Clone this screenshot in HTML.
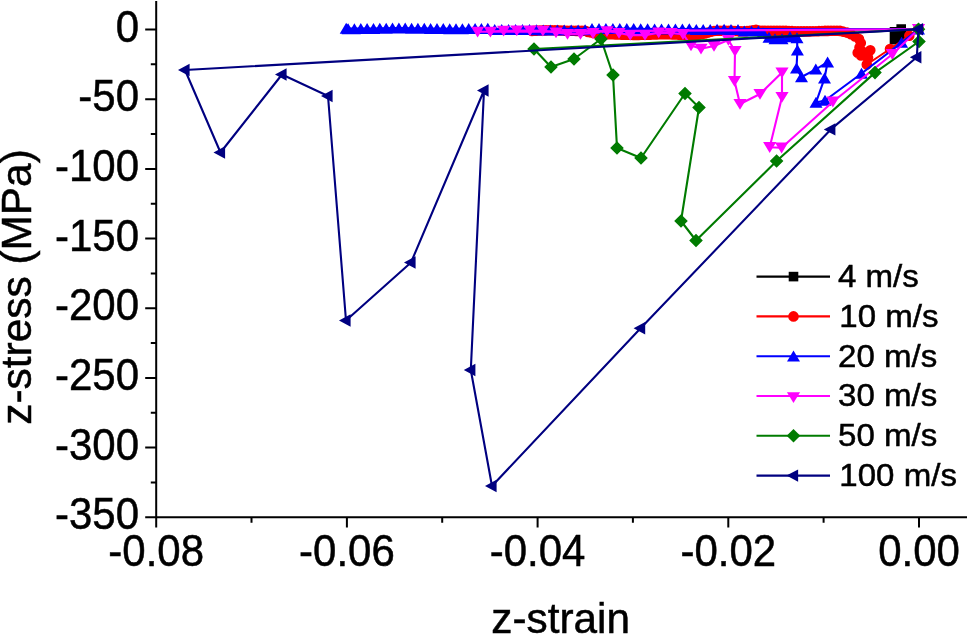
<!DOCTYPE html>
<html lang="en"><head><meta charset="utf-8"><title>z-stress vs z-strain</title>
<style>html,body{margin:0;padding:0;background:#fff}body{width:968px;height:636px;overflow:hidden}</style></head>
<body>
<svg width="968" height="636" viewBox="0 0 968 636" style="display:block">
<rect width="968" height="636" fill="#ffffff"/>
<g><polyline fill="none" stroke="#000000" stroke-width="2.1" stroke-linejoin="round" points="918.5,29.2 901.2,29 901.2,33 901,37.8 898,39.6 894.5,39.8 894.5,35.5 894.5,31.9 918.5,29.2"/><path fill="#000000" d="M913.7 24.4h9.6v9.6h-9.6zM896.4 24.2h9.6v9.6h-9.6zM896.4 28.2h9.6v9.6h-9.6zM896.2 33h9.6v9.6h-9.6zM893.2 34.8h9.6v9.6h-9.6zM889.7 35h9.6v9.6h-9.6zM889.7 30.7h9.6v9.6h-9.6zM889.7 27.1h9.6v9.6h-9.6z"/></g>
<g><polyline fill="none" stroke="#ff0000" stroke-width="2.1" stroke-linejoin="round" points="918.5,29.2 909.3,35.8 890,49 866.8,64.5 868,57.5 870.3,50.3 865,52.5 861,55.5 857.7,52.8 859.5,47.5 860.8,43 859,39 855,36.5 851,34.2 847,32.6 843,31.6 840,30.9 837,30.8 834,30.8 831,30.8 828,30.9 825,30.9 822,31 819,31.1 816,31.2 813,31.3 810,31.4 807,31.4 804,31.4 801,31.4 798,31.3 795,31.2 792,31.1 789,31 786,30.9 783,30.9 780,30.8 777,30.8 774,30.8 771,30.9 768,30.8 765,30.7 762,30.7 759,30.6 756,29.9 753,30.3 750,30.7 747,31.1 744,31.3 741,31.2 738,31.1 735,31 732,30.9 729,30.8 726,30.7 723,30.7 720,30.7 717,30.7 714,31 711,31.8 708,32.6 705,33.4 702,34.2 699,34.8 696,34.9 693,34.9 690,34.9 687,34.8 684,34.8 681,34.7 678,34.6 675,34.5 672,34.4 669,34.3 666,34.3 663,34.3 660,34.3 657,34.4 654,34.5 651,34.6 648,34.7 645,34.8 642,34.8 639,34.9 636,34.9 633,34.9 630,34.8 627,34.8 624,34.7 621,34.6 618,34.5 615,34.4 612,34.3 609,34.3 606,34.3 603,34.3 600,34.4 597,33.8 594,33.2 591,32.5 588,31.9 585,30.8 582,30.9 579,30.9 576,30.9 573,30.8 570,30.7 567,30.7 564,30.6 561,30.5 558,30.4 555,30.3 552,30.3 549,30.3 546,30.4 543,30.4 540,30.5 537,30.6 534,30.7 532,31 918.5,29.2"/><path fill="#ff0000" d="M913.2 29.2a5.3 5.3 0 1 0 10.6 0a5.3 5.3 0 1 0 -10.6 0zM904 35.8a5.3 5.3 0 1 0 10.6 0a5.3 5.3 0 1 0 -10.6 0zM884.7 49a5.3 5.3 0 1 0 10.6 0a5.3 5.3 0 1 0 -10.6 0zM861.5 64.5a5.3 5.3 0 1 0 10.6 0a5.3 5.3 0 1 0 -10.6 0zM862.7 57.5a5.3 5.3 0 1 0 10.6 0a5.3 5.3 0 1 0 -10.6 0zM865 50.3a5.3 5.3 0 1 0 10.6 0a5.3 5.3 0 1 0 -10.6 0zM859.7 52.5a5.3 5.3 0 1 0 10.6 0a5.3 5.3 0 1 0 -10.6 0zM855.7 55.5a5.3 5.3 0 1 0 10.6 0a5.3 5.3 0 1 0 -10.6 0zM852.4 52.8a5.3 5.3 0 1 0 10.6 0a5.3 5.3 0 1 0 -10.6 0zM854.2 47.5a5.3 5.3 0 1 0 10.6 0a5.3 5.3 0 1 0 -10.6 0zM855.5 43a5.3 5.3 0 1 0 10.6 0a5.3 5.3 0 1 0 -10.6 0zM853.7 39a5.3 5.3 0 1 0 10.6 0a5.3 5.3 0 1 0 -10.6 0zM849.7 36.5a5.3 5.3 0 1 0 10.6 0a5.3 5.3 0 1 0 -10.6 0zM845.7 34.2a5.3 5.3 0 1 0 10.6 0a5.3 5.3 0 1 0 -10.6 0zM841.7 32.6a5.3 5.3 0 1 0 10.6 0a5.3 5.3 0 1 0 -10.6 0zM837.7 31.6a5.3 5.3 0 1 0 10.6 0a5.3 5.3 0 1 0 -10.6 0zM834.7 30.9a5.3 5.3 0 1 0 10.6 0a5.3 5.3 0 1 0 -10.6 0zM831.7 30.8a5.3 5.3 0 1 0 10.6 0a5.3 5.3 0 1 0 -10.6 0zM828.7 30.8a5.3 5.3 0 1 0 10.6 0a5.3 5.3 0 1 0 -10.6 0zM825.7 30.8a5.3 5.3 0 1 0 10.6 0a5.3 5.3 0 1 0 -10.6 0zM822.7 30.9a5.3 5.3 0 1 0 10.6 0a5.3 5.3 0 1 0 -10.6 0zM819.7 30.9a5.3 5.3 0 1 0 10.6 0a5.3 5.3 0 1 0 -10.6 0zM816.7 31a5.3 5.3 0 1 0 10.6 0a5.3 5.3 0 1 0 -10.6 0zM813.7 31.1a5.3 5.3 0 1 0 10.6 0a5.3 5.3 0 1 0 -10.6 0zM810.7 31.2a5.3 5.3 0 1 0 10.6 0a5.3 5.3 0 1 0 -10.6 0zM807.7 31.3a5.3 5.3 0 1 0 10.6 0a5.3 5.3 0 1 0 -10.6 0zM804.7 31.4a5.3 5.3 0 1 0 10.6 0a5.3 5.3 0 1 0 -10.6 0zM801.7 31.4a5.3 5.3 0 1 0 10.6 0a5.3 5.3 0 1 0 -10.6 0zM798.7 31.4a5.3 5.3 0 1 0 10.6 0a5.3 5.3 0 1 0 -10.6 0zM795.7 31.4a5.3 5.3 0 1 0 10.6 0a5.3 5.3 0 1 0 -10.6 0zM792.7 31.3a5.3 5.3 0 1 0 10.6 0a5.3 5.3 0 1 0 -10.6 0zM789.7 31.2a5.3 5.3 0 1 0 10.6 0a5.3 5.3 0 1 0 -10.6 0zM786.7 31.1a5.3 5.3 0 1 0 10.6 0a5.3 5.3 0 1 0 -10.6 0zM783.7 31a5.3 5.3 0 1 0 10.6 0a5.3 5.3 0 1 0 -10.6 0zM780.7 30.9a5.3 5.3 0 1 0 10.6 0a5.3 5.3 0 1 0 -10.6 0zM777.7 30.9a5.3 5.3 0 1 0 10.6 0a5.3 5.3 0 1 0 -10.6 0zM774.7 30.8a5.3 5.3 0 1 0 10.6 0a5.3 5.3 0 1 0 -10.6 0zM771.7 30.8a5.3 5.3 0 1 0 10.6 0a5.3 5.3 0 1 0 -10.6 0zM768.7 30.8a5.3 5.3 0 1 0 10.6 0a5.3 5.3 0 1 0 -10.6 0zM765.7 30.9a5.3 5.3 0 1 0 10.6 0a5.3 5.3 0 1 0 -10.6 0zM762.7 30.8a5.3 5.3 0 1 0 10.6 0a5.3 5.3 0 1 0 -10.6 0zM759.7 30.7a5.3 5.3 0 1 0 10.6 0a5.3 5.3 0 1 0 -10.6 0zM756.7 30.7a5.3 5.3 0 1 0 10.6 0a5.3 5.3 0 1 0 -10.6 0zM753.7 30.6a5.3 5.3 0 1 0 10.6 0a5.3 5.3 0 1 0 -10.6 0zM750.7 29.9a5.3 5.3 0 1 0 10.6 0a5.3 5.3 0 1 0 -10.6 0zM747.7 30.3a5.3 5.3 0 1 0 10.6 0a5.3 5.3 0 1 0 -10.6 0zM744.7 30.7a5.3 5.3 0 1 0 10.6 0a5.3 5.3 0 1 0 -10.6 0zM741.7 31.1a5.3 5.3 0 1 0 10.6 0a5.3 5.3 0 1 0 -10.6 0zM738.7 31.3a5.3 5.3 0 1 0 10.6 0a5.3 5.3 0 1 0 -10.6 0zM735.7 31.2a5.3 5.3 0 1 0 10.6 0a5.3 5.3 0 1 0 -10.6 0zM732.7 31.1a5.3 5.3 0 1 0 10.6 0a5.3 5.3 0 1 0 -10.6 0zM729.7 31a5.3 5.3 0 1 0 10.6 0a5.3 5.3 0 1 0 -10.6 0zM726.7 30.9a5.3 5.3 0 1 0 10.6 0a5.3 5.3 0 1 0 -10.6 0zM723.7 30.8a5.3 5.3 0 1 0 10.6 0a5.3 5.3 0 1 0 -10.6 0zM720.7 30.7a5.3 5.3 0 1 0 10.6 0a5.3 5.3 0 1 0 -10.6 0zM717.7 30.7a5.3 5.3 0 1 0 10.6 0a5.3 5.3 0 1 0 -10.6 0zM714.7 30.7a5.3 5.3 0 1 0 10.6 0a5.3 5.3 0 1 0 -10.6 0zM711.7 30.7a5.3 5.3 0 1 0 10.6 0a5.3 5.3 0 1 0 -10.6 0zM708.7 31a5.3 5.3 0 1 0 10.6 0a5.3 5.3 0 1 0 -10.6 0zM705.7 31.8a5.3 5.3 0 1 0 10.6 0a5.3 5.3 0 1 0 -10.6 0zM702.7 32.6a5.3 5.3 0 1 0 10.6 0a5.3 5.3 0 1 0 -10.6 0zM699.7 33.4a5.3 5.3 0 1 0 10.6 0a5.3 5.3 0 1 0 -10.6 0zM696.7 34.2a5.3 5.3 0 1 0 10.6 0a5.3 5.3 0 1 0 -10.6 0zM693.7 34.8a5.3 5.3 0 1 0 10.6 0a5.3 5.3 0 1 0 -10.6 0zM690.7 34.9a5.3 5.3 0 1 0 10.6 0a5.3 5.3 0 1 0 -10.6 0zM687.7 34.9a5.3 5.3 0 1 0 10.6 0a5.3 5.3 0 1 0 -10.6 0zM684.7 34.9a5.3 5.3 0 1 0 10.6 0a5.3 5.3 0 1 0 -10.6 0zM681.7 34.8a5.3 5.3 0 1 0 10.6 0a5.3 5.3 0 1 0 -10.6 0zM678.7 34.8a5.3 5.3 0 1 0 10.6 0a5.3 5.3 0 1 0 -10.6 0zM675.7 34.7a5.3 5.3 0 1 0 10.6 0a5.3 5.3 0 1 0 -10.6 0zM672.7 34.6a5.3 5.3 0 1 0 10.6 0a5.3 5.3 0 1 0 -10.6 0zM669.7 34.5a5.3 5.3 0 1 0 10.6 0a5.3 5.3 0 1 0 -10.6 0zM666.7 34.4a5.3 5.3 0 1 0 10.6 0a5.3 5.3 0 1 0 -10.6 0zM663.7 34.3a5.3 5.3 0 1 0 10.6 0a5.3 5.3 0 1 0 -10.6 0zM660.7 34.3a5.3 5.3 0 1 0 10.6 0a5.3 5.3 0 1 0 -10.6 0zM657.7 34.3a5.3 5.3 0 1 0 10.6 0a5.3 5.3 0 1 0 -10.6 0zM654.7 34.3a5.3 5.3 0 1 0 10.6 0a5.3 5.3 0 1 0 -10.6 0zM651.7 34.4a5.3 5.3 0 1 0 10.6 0a5.3 5.3 0 1 0 -10.6 0zM648.7 34.5a5.3 5.3 0 1 0 10.6 0a5.3 5.3 0 1 0 -10.6 0zM645.7 34.6a5.3 5.3 0 1 0 10.6 0a5.3 5.3 0 1 0 -10.6 0zM642.7 34.7a5.3 5.3 0 1 0 10.6 0a5.3 5.3 0 1 0 -10.6 0zM639.7 34.8a5.3 5.3 0 1 0 10.6 0a5.3 5.3 0 1 0 -10.6 0zM636.7 34.8a5.3 5.3 0 1 0 10.6 0a5.3 5.3 0 1 0 -10.6 0zM633.7 34.9a5.3 5.3 0 1 0 10.6 0a5.3 5.3 0 1 0 -10.6 0zM630.7 34.9a5.3 5.3 0 1 0 10.6 0a5.3 5.3 0 1 0 -10.6 0zM627.7 34.9a5.3 5.3 0 1 0 10.6 0a5.3 5.3 0 1 0 -10.6 0zM624.7 34.8a5.3 5.3 0 1 0 10.6 0a5.3 5.3 0 1 0 -10.6 0zM621.7 34.8a5.3 5.3 0 1 0 10.6 0a5.3 5.3 0 1 0 -10.6 0zM618.7 34.7a5.3 5.3 0 1 0 10.6 0a5.3 5.3 0 1 0 -10.6 0zM615.7 34.6a5.3 5.3 0 1 0 10.6 0a5.3 5.3 0 1 0 -10.6 0zM612.7 34.5a5.3 5.3 0 1 0 10.6 0a5.3 5.3 0 1 0 -10.6 0zM609.7 34.4a5.3 5.3 0 1 0 10.6 0a5.3 5.3 0 1 0 -10.6 0zM606.7 34.3a5.3 5.3 0 1 0 10.6 0a5.3 5.3 0 1 0 -10.6 0zM603.7 34.3a5.3 5.3 0 1 0 10.6 0a5.3 5.3 0 1 0 -10.6 0zM600.7 34.3a5.3 5.3 0 1 0 10.6 0a5.3 5.3 0 1 0 -10.6 0zM597.7 34.3a5.3 5.3 0 1 0 10.6 0a5.3 5.3 0 1 0 -10.6 0zM594.7 34.4a5.3 5.3 0 1 0 10.6 0a5.3 5.3 0 1 0 -10.6 0zM591.7 33.8a5.3 5.3 0 1 0 10.6 0a5.3 5.3 0 1 0 -10.6 0zM588.7 33.2a5.3 5.3 0 1 0 10.6 0a5.3 5.3 0 1 0 -10.6 0zM585.7 32.5a5.3 5.3 0 1 0 10.6 0a5.3 5.3 0 1 0 -10.6 0zM582.7 31.9a5.3 5.3 0 1 0 10.6 0a5.3 5.3 0 1 0 -10.6 0zM579.7 30.8a5.3 5.3 0 1 0 10.6 0a5.3 5.3 0 1 0 -10.6 0zM576.7 30.9a5.3 5.3 0 1 0 10.6 0a5.3 5.3 0 1 0 -10.6 0zM573.7 30.9a5.3 5.3 0 1 0 10.6 0a5.3 5.3 0 1 0 -10.6 0zM570.7 30.9a5.3 5.3 0 1 0 10.6 0a5.3 5.3 0 1 0 -10.6 0zM567.7 30.8a5.3 5.3 0 1 0 10.6 0a5.3 5.3 0 1 0 -10.6 0zM564.7 30.7a5.3 5.3 0 1 0 10.6 0a5.3 5.3 0 1 0 -10.6 0zM561.7 30.7a5.3 5.3 0 1 0 10.6 0a5.3 5.3 0 1 0 -10.6 0zM558.7 30.6a5.3 5.3 0 1 0 10.6 0a5.3 5.3 0 1 0 -10.6 0zM555.7 30.5a5.3 5.3 0 1 0 10.6 0a5.3 5.3 0 1 0 -10.6 0zM552.7 30.4a5.3 5.3 0 1 0 10.6 0a5.3 5.3 0 1 0 -10.6 0zM549.7 30.3a5.3 5.3 0 1 0 10.6 0a5.3 5.3 0 1 0 -10.6 0zM546.7 30.3a5.3 5.3 0 1 0 10.6 0a5.3 5.3 0 1 0 -10.6 0zM543.7 30.3a5.3 5.3 0 1 0 10.6 0a5.3 5.3 0 1 0 -10.6 0zM540.7 30.4a5.3 5.3 0 1 0 10.6 0a5.3 5.3 0 1 0 -10.6 0zM537.7 30.4a5.3 5.3 0 1 0 10.6 0a5.3 5.3 0 1 0 -10.6 0zM534.7 30.5a5.3 5.3 0 1 0 10.6 0a5.3 5.3 0 1 0 -10.6 0zM531.7 30.6a5.3 5.3 0 1 0 10.6 0a5.3 5.3 0 1 0 -10.6 0zM528.7 30.7a5.3 5.3 0 1 0 10.6 0a5.3 5.3 0 1 0 -10.6 0zM526.7 31a5.3 5.3 0 1 0 10.6 0a5.3 5.3 0 1 0 -10.6 0z"/></g>
<g><polyline fill="none" stroke="#0000ff" stroke-width="2.1" stroke-linejoin="round" points="918.5,29.2 901.6,42.6 861.5,73.5 825,100.5 816,102.5 824.5,78.3 827.6,62.2 815.8,69.4 801.5,77 796.5,68.4 797.4,50.4 797,38 790,37 782,39 775,39 769,37.5 763,33 758.4,31.3 751.5,31.3 744.3,31.3 738,29.7 731,29.7 724.1,29.6 717.1,29.6 710.2,29.7 703.2,29.7 696.3,29.9 689.3,29.1 682.4,29.2 675.4,29.3 668.5,29.3 661.5,29.3 654.6,29.2 647.6,29.1 640.7,29 633.7,28.9 626.8,28.8 619.8,28.7 612.9,28.7 605.9,28.7 599,28.8 592,28.9 585.1,30 578.1,30.2 571.2,30.2 564.2,30.3 557.3,30.3 550.3,30.2 543.4,30.2 536.4,30 529.5,29.9 522.5,29.8 515.6,29.7 508.6,29.7 501.7,29.7 494.7,29.8 487.8,28.6 481.4,28.7 475.1,28.8 468.7,28.9 462.4,29 456,29 449.7,29 443.3,28.9 437,28.9 430.6,28.8 424.3,28.6 417.9,28.5 411.6,28.5 405.2,28.4 398.9,28.4 392.5,28.4 386.2,28.5 379.8,28.6 373.5,28.7 367.1,28.8 360.8,28.9 354.4,29 348.1,29 346.2,28.6 918.5,29.2"/><path fill="#0000ff" d="M918.5 23.4l6.5 11h-13zM901.6 36.8l6.5 11h-13zM861.5 67.7l6.5 11h-13zM825 94.7l6.5 11h-13zM816 96.7l6.5 11h-13zM824.5 72.5l6.5 11h-13zM827.6 56.4l6.5 11h-13zM815.8 63.6l6.5 11h-13zM801.5 71.2l6.5 11h-13zM796.5 62.6l6.5 11h-13zM797.4 44.6l6.5 11h-13zM797 32.2l6.5 11h-13zM790 31.2l6.5 11h-13zM782 33.2l6.5 11h-13zM775 33.2l6.5 11h-13zM769 31.7l6.5 11h-13zM763 27.2l6.5 11h-13zM758.4 25.5l6.5 11h-13zM751.5 25.5l6.5 11h-13zM744.3 25.5l6.5 11h-13zM738 23.9l6.5 11h-13zM731 23.9l6.5 11h-13zM724.1 23.8l6.5 11h-13zM717.1 23.8l6.5 11h-13zM710.2 23.9l6.5 11h-13zM703.2 23.9l6.5 11h-13zM696.3 24.1l6.5 11h-13zM689.3 23.3l6.5 11h-13zM682.4 23.4l6.5 11h-13zM675.4 23.5l6.5 11h-13zM668.5 23.5l6.5 11h-13zM661.5 23.5l6.5 11h-13zM654.6 23.4l6.5 11h-13zM647.6 23.3l6.5 11h-13zM640.7 23.2l6.5 11h-13zM633.7 23.1l6.5 11h-13zM626.8 23l6.5 11h-13zM619.8 22.9l6.5 11h-13zM612.9 22.9l6.5 11h-13zM605.9 22.9l6.5 11h-13zM599 23l6.5 11h-13zM592 23.1l6.5 11h-13zM585.1 24.2l6.5 11h-13zM578.1 24.4l6.5 11h-13zM571.2 24.4l6.5 11h-13zM564.2 24.5l6.5 11h-13zM557.3 24.5l6.5 11h-13zM550.3 24.4l6.5 11h-13zM543.4 24.4l6.5 11h-13zM536.4 24.2l6.5 11h-13zM529.5 24.1l6.5 11h-13zM522.5 24l6.5 11h-13zM515.6 23.9l6.5 11h-13zM508.6 23.9l6.5 11h-13zM501.7 23.9l6.5 11h-13zM494.7 24l6.5 11h-13zM487.8 22.8l6.5 11h-13zM481.4 22.9l6.5 11h-13zM475.1 23l6.5 11h-13zM468.7 23.1l6.5 11h-13zM462.4 23.2l6.5 11h-13zM456 23.2l6.5 11h-13zM449.7 23.2l6.5 11h-13zM443.3 23.1l6.5 11h-13zM437 23.1l6.5 11h-13zM430.6 23l6.5 11h-13zM424.3 22.8l6.5 11h-13zM417.9 22.7l6.5 11h-13zM411.6 22.7l6.5 11h-13zM405.2 22.6l6.5 11h-13zM398.9 22.6l6.5 11h-13zM392.5 22.6l6.5 11h-13zM386.2 22.7l6.5 11h-13zM379.8 22.8l6.5 11h-13zM373.5 22.9l6.5 11h-13zM367.1 23l6.5 11h-13zM360.8 23.1l6.5 11h-13zM354.4 23.2l6.5 11h-13zM348.1 23.2l6.5 11h-13zM346.2 22.8l6.5 11h-13z"/></g>
<g><polyline fill="none" stroke="#ff00ff" stroke-width="2.1" stroke-linejoin="round" points="918.5,29.2 892.3,54.2 832.9,101.7 781.6,147.7 769.7,147.2 782,97 782,72.5 760,94 740,104 734.5,81 735,51 728.4,40 714,46 701,48.8 691,45.5 683,34.2 671,33 658.7,32.6 645,35.1 630.2,35.1 619,33 607,31.3 593,33.2 580.5,34 567.5,34 556,32.5 542.9,30.9 530,30.5 516.8,30.5 503.6,30.9 490.4,31.8 477.6,31.8 918.5,29.2"/><path fill="#ff00ff" d="M918.5 34.9l-6.6 -10.8h13.2zM892.3 59.9l-6.6 -10.8h13.2zM832.9 107.4l-6.6 -10.8h13.2zM781.6 153.4l-6.6 -10.8h13.2zM769.7 152.9l-6.6 -10.8h13.2zM782 102.7l-6.6 -10.8h13.2zM782 78.2l-6.6 -10.8h13.2zM760 99.7l-6.6 -10.8h13.2zM740 109.7l-6.6 -10.8h13.2zM734.5 86.7l-6.6 -10.8h13.2zM735 56.7l-6.6 -10.8h13.2zM728.4 45.7l-6.6 -10.8h13.2zM714 51.7l-6.6 -10.8h13.2zM701 54.5l-6.6 -10.8h13.2zM691 51.2l-6.6 -10.8h13.2zM683 39.9l-6.6 -10.8h13.2zM671 38.7l-6.6 -10.8h13.2zM658.7 38.3l-6.6 -10.8h13.2zM645 40.8l-6.6 -10.8h13.2zM630.2 40.8l-6.6 -10.8h13.2zM619 38.7l-6.6 -10.8h13.2zM607 37l-6.6 -10.8h13.2zM593 38.9l-6.6 -10.8h13.2zM580.5 39.7l-6.6 -10.8h13.2zM567.5 39.7l-6.6 -10.8h13.2zM556 38.2l-6.6 -10.8h13.2zM542.9 36.6l-6.6 -10.8h13.2zM530 36.2l-6.6 -10.8h13.2zM516.8 36.2l-6.6 -10.8h13.2zM503.6 36.6l-6.6 -10.8h13.2zM490.4 37.5l-6.6 -10.8h13.2zM477.6 37.5l-6.6 -10.8h13.2z"/></g>
<g><polyline fill="none" stroke="#007b00" stroke-width="2.1" stroke-linejoin="round" points="918.5,29.2 919,41.5 875,72.6 776.6,161 696,240.5 681,221 699,107.5 685,93.5 641,158 617,148 613,75 601,39 574,59 551,67 534,49 918.5,29.2"/><path fill="#007b00" d="M918.5 22.4l6.8 6.8l-6.8 6.8l-6.8 -6.8zM919 34.7l6.8 6.8l-6.8 6.8l-6.8 -6.8zM875 65.8l6.8 6.8l-6.8 6.8l-6.8 -6.8zM776.6 154.2l6.8 6.8l-6.8 6.8l-6.8 -6.8zM696 233.7l6.8 6.8l-6.8 6.8l-6.8 -6.8zM681 214.2l6.8 6.8l-6.8 6.8l-6.8 -6.8zM699 100.7l6.8 6.8l-6.8 6.8l-6.8 -6.8zM685 86.7l6.8 6.8l-6.8 6.8l-6.8 -6.8zM641 151.2l6.8 6.8l-6.8 6.8l-6.8 -6.8zM617 141.2l6.8 6.8l-6.8 6.8l-6.8 -6.8zM613 68.2l6.8 6.8l-6.8 6.8l-6.8 -6.8zM601 32.2l6.8 6.8l-6.8 6.8l-6.8 -6.8zM574 52.2l6.8 6.8l-6.8 6.8l-6.8 -6.8zM551 60.2l6.8 6.8l-6.8 6.8l-6.8 -6.8zM534 42.2l6.8 6.8l-6.8 6.8l-6.8 -6.8z"/></g>
<g><polyline fill="none" stroke="#000080" stroke-width="2.1" stroke-linejoin="round" points="918.5,29.2 916.8,57.3 830.8,129.4 640.6,328.3 492,486 470.8,370 484,90.5 411,262.5 346,320.5 328,96 282,74.5 220.5,152.5 185,70 918.5,29.2"/><path fill="#000080" d="M911.5 29.2l11.6 -6.2v12.4zM909.8 57.3l11.6 -6.2v12.4zM823.8 129.4l11.6 -6.2v12.4zM633.6 328.3l11.6 -6.2v12.4zM485 486l11.6 -6.2v12.4zM463.8 370l11.6 -6.2v12.4zM477 90.5l11.6 -6.2v12.4zM404 262.5l11.6 -6.2v12.4zM339 320.5l11.6 -6.2v12.4zM321 96l11.6 -6.2v12.4zM275 74.5l11.6 -6.2v12.4zM213.5 152.5l11.6 -6.2v12.4zM178 70l11.6 -6.2v12.4z"/></g>
<path fill="none" stroke="#000" stroke-width="2" d="M156.2 1V518.2M145.2 517.2H967M145.2 29.5H156.2M150.8 64.3H156.2M145.2 99.2H156.2M150.8 134H156.2M145.2 168.9H156.2M150.8 203.7H156.2M145.2 238.5H156.2M150.8 273.4H156.2M145.2 308.2H156.2M150.8 343.1H156.2M145.2 377.9H156.2M150.8 412.7H156.2M145.2 447.6H156.2M150.8 482.4H156.2M145.2 517.3H156.2M156.2 517.2V527.6M251.5 517.2V522.8M346.9 517.2V527.6M442.2 517.2V522.8M537.6 517.2V527.6M632.9 517.2V522.8M728.3 517.2V527.6M823.6 517.2V522.8M919 517.2V527.6"/>
<g font-family="Liberation Sans, Arial, Helvetica, sans-serif" fill="#000" stroke="#000" stroke-width="0.5">
<g font-size="42px" text-anchor="end">
<text transform="translate(139 41.5) scale(1 1.035)">0</text>
<text transform="translate(139 111.2) scale(1 1.035)">-50</text>
<text transform="translate(139 180.9) scale(1 1.035)">-100</text>
<text transform="translate(139 250.5) scale(1 1.035)">-150</text>
<text transform="translate(139 320.2) scale(1 1.035)">-200</text>
<text transform="translate(139 389.9) scale(1 1.035)">-250</text>
<text transform="translate(139 459.6) scale(1 1.035)">-300</text>
<text transform="translate(139 529.3) scale(1 1.035)">-350</text>
</g>
<g font-size="42px" text-anchor="middle">
<text transform="translate(156.2 566) scale(1 1.035)">-0.08</text>
<text transform="translate(346.9 566) scale(1 1.035)">-0.06</text>
<text transform="translate(537.6 566) scale(1 1.035)">-0.04</text>
<text transform="translate(728.3 566) scale(1 1.035)">-0.02</text>
<text transform="translate(919 566) scale(1 1.035)">0.00</text>
</g>
<text x="560.6" y="633.2" font-size="42.3px" text-anchor="middle">z-strain</text>
<text transform="translate(31.2,287) rotate(-90)" font-size="42.4px" text-anchor="middle">z-stress (MPa)</text>
<path fill="none" stroke="#000000" stroke-width="2.1" d="M756.5 276.6H830"/>
<path stroke="none" fill="#000000" d="M788.7 271.8h9.6v9.6h-9.6z"/>
<text transform="translate(838 287) scale(1.04 1)" font-size="31.8px">4 m/s</text>
<path fill="none" stroke="#ff0000" stroke-width="2.1" d="M756.5 316.4H830"/>
<path stroke="none" fill="#ff0000" d="M788.2 316.4a5.3 5.3 0 1 0 10.6 0a5.3 5.3 0 1 0 -10.6 0z"/>
<text transform="translate(839.3 326.8) scale(1.04 1)" font-size="31.8px">10 m/s</text>
<path fill="none" stroke="#0000ff" stroke-width="2.1" d="M756.5 356.2H830"/>
<path stroke="none" fill="#0000ff" d="M793.5 350.4l6.5 11h-13z"/>
<text transform="translate(838 366.6) scale(1.04 1)" font-size="31.8px">20 m/s</text>
<path fill="none" stroke="#ff00ff" stroke-width="2.1" d="M756.5 396H830"/>
<path stroke="none" fill="#ff00ff" d="M793.5 403l-6.6 -10.8h13.2z"/>
<text transform="translate(838 406.4) scale(1.04 1)" font-size="31.8px">30 m/s</text>
<path fill="none" stroke="#007b00" stroke-width="2.1" d="M756.5 435.8H830"/>
<path stroke="none" fill="#007b00" d="M793.5 429l6.8 6.8l-6.8 6.8l-6.8 -6.8z"/>
<text transform="translate(838 446.2) scale(1.04 1)" font-size="31.8px">50 m/s</text>
<path fill="none" stroke="#000080" stroke-width="2.1" d="M756.5 475.6H830"/>
<path stroke="none" fill="#000080" d="M786.5 475.6l11.6 -6.2v12.4z"/>
<text transform="translate(839.3 486) scale(1.04 1)" font-size="31.8px">100 m/s</text>
</g>
</svg>
</body></html>
